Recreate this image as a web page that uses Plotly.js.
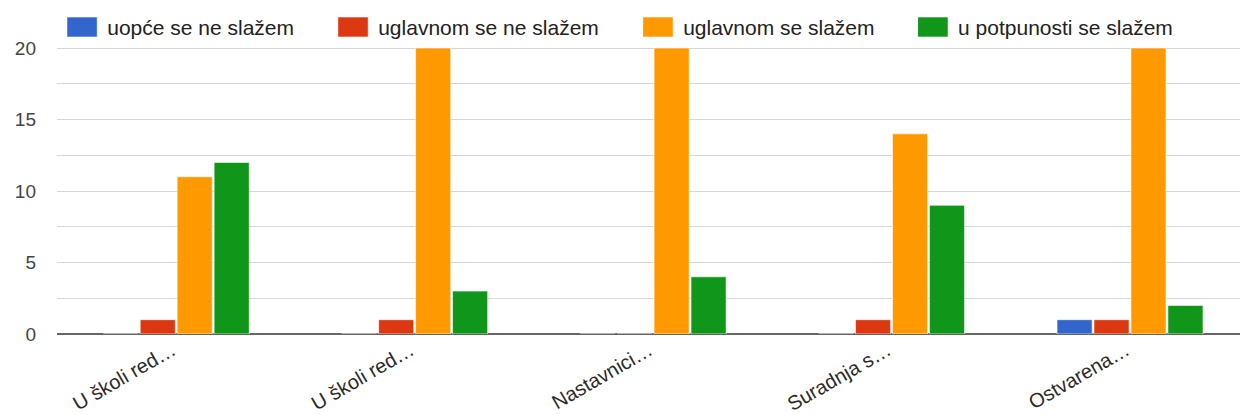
<!DOCTYPE html>
<html>
<head>
<meta charset="utf-8">
<script src="https://cdn.plot.ly/plotly-3.0.1.min.js"></script>
<style>
  html, body { margin: 0; padding: 0; background: #fff; overflow: hidden; }
  #chart { width: 1240px; height: 415px; }
</style>
</head>
<body>
<div id="chart"></div>
<script>
const categories = ['U školi red…', 'U školi red…', 'Nastavnici…', 'Suradnja s…', 'Ostvarena…'];
const seriesNames = ['uopće se ne slažem', 'uglavnom se ne slažem', 'uglavnom se slažem', 'u potpunosti se slažem'];
const uopceSeNeSlazem = [0, 0, 0, 0, 1];
const uglavnomSeNeSlazem = [1, 1, 0, 1, 1];
const uglavnomSeSlazem = [11, 20, 20, 14, 20];
const uPotpunostiSeSlazem = [12, 3, 4, 9, 2];
const yTicks = [0, 5, 10, 15, 20];

const colors = ['#3366cc', '#dc3912', '#ff9900', '#109618'];
const seriesValues = [uopceSeNeSlazem, uglavnomSeNeSlazem, uglavnomSeSlazem, uPotpunostiSeSlazem];
const xIdx = categories.map((_, i) => i);
const FONT = '"Liberation Sans", Arial, sans-serif';

const W = 1240, H = 415;
const mL = 56.75, mR = 0, mT = 12, mB = 81;
const plotW = W - mL - mR, plotH = H - mT - mB;
const pxX = px => (px - mL) / plotW;
const pxY = py => (H - mB - py) / plotH;

// legend: text start x (px), swatch geometry
const legendTextX = [107, 378, 683, 958];
const legendMidY = 27;
const swW = 40, swH = 20, swGap = 10;
const legendIds = ['legend', 'legend2', 'legend3', 'legend4'];

const traces = seriesValues.map((vals, i) => ({
  type: 'bar',
  name: seriesNames[i],
  x: xIdx,
  y: vals,
  marker: { color: colors[i], line: { color: 'rgba(255,255,255,0.6)', width: 1 } },
  legend: legendIds[i],
  hoverinfo: 'name+y'
}));

const layout = {
  width: W, height: H,
  margin: { l: mL, r: mR, t: mT, b: mB, pad: 0 },
  paper_bgcolor: '#ffffff',
  plot_bgcolor: '#ffffff',
  font: { family: FONT, color: '#222222' },
  barmode: 'group',
  bargap: 0.38,
  bargroupgap: 0.05,
  xaxis: {
    range: [-0.5, -0.5 + plotW / 238.5],
    tickmode: 'array',
    tickvals: xIdx,
    ticktext: categories,
    tickangle: -30,
    ticklabelshift: -4,
    tickfont: { size: 20, color: '#2a2a2a', family: FONT },
    showgrid: false, zeroline: false, showline: false, ticks: '',
    fixedrange: true
  },
  yaxis: {
    range: [0, 22.52],
    tickmode: 'array',
    tickvals: yTicks,
    tickfont: { size: 19, color: '#444444', family: FONT },
    ticklabelstandoff: 20,
    showgrid: true, gridcolor: '#d6d6d6', gridwidth: 1,
    minor: { dtick: 2.5, tick0: 0, showgrid: true, gridcolor: '#d6d6d6', gridwidth: 1, ticks: '' },
    zeroline: true, zerolinecolor: '#666666', zerolinewidth: 2,
    ticks: '', fixedrange: true
  },
  showlegend: true
};

legendIds.forEach((id, i) => {
  layout[id] = {
    orientation: 'h',
    x: pxX(legendTextX[i] - 40),
    xanchor: 'left',
    y: pxY(legendMidY),
    yanchor: 'middle',
    bgcolor: 'rgba(0,0,0,0)',
    borderwidth: 0,
    font: { size: 21, color: '#222222', family: FONT },
    itemclick: false, itemdoubleclick: false
  };
});

const gd = document.getElementById('chart');

// each legend entry: its swatch path and its text, found via the enclosing g.traces
function legendItems() {
  const out = [];
  gd.querySelectorAll('.legendpoints path').forEach(p => {
    let g = p.parentNode;
    while (g && g !== gd && !(g.classList && g.classList.contains('traces'))) g = g.parentNode;
    if (!g || g === gd) return;
    const t = g.querySelector('text');
    if (!t) return;
    out.push({ p, t, k: seriesNames.indexOf(t.textContent) });
  });
  return out;
}

function fixSwatches() {
  legendItems().forEach(({ p, t }) => {
    try {
      const tb = t.getBoundingClientRect();
      const m = p.getScreenCTM();
      if (!m) return;
      const ox = m.e, oy = m.f;
      const x1 = tb.left - swGap - swW - ox, x2 = tb.left - swGap - ox;
      const y1 = legendMidY - swH / 2 - oy, y2 = legendMidY + swH / 2 - oy;
      p.setAttribute('d', `M${x2},${y2}H${x1}V${y1}H${x2}Z`);
    } catch (e) { /* keep default swatch */ }
  });
}

Plotly.newPlot(gd, traces, layout, { displayModeBar: false, staticPlot: true }).then(() => {
  const upd = {};
  legendItems().forEach(({ t, k }) => {
    if (k < 0) return;
    const delta = legendTextX[k] - t.getBoundingClientRect().left;
    if (Math.abs(delta) > 0.5) upd[legendIds[k] + '.x'] = layout[legendIds[k]].x + delta / plotW;
  });
  return Object.keys(upd).length ? Plotly.relayout(gd, upd) : null;
}).then(() => {
  fixSwatches();
  setTimeout(fixSwatches, 50);
});
</script>
</body>
</html>
